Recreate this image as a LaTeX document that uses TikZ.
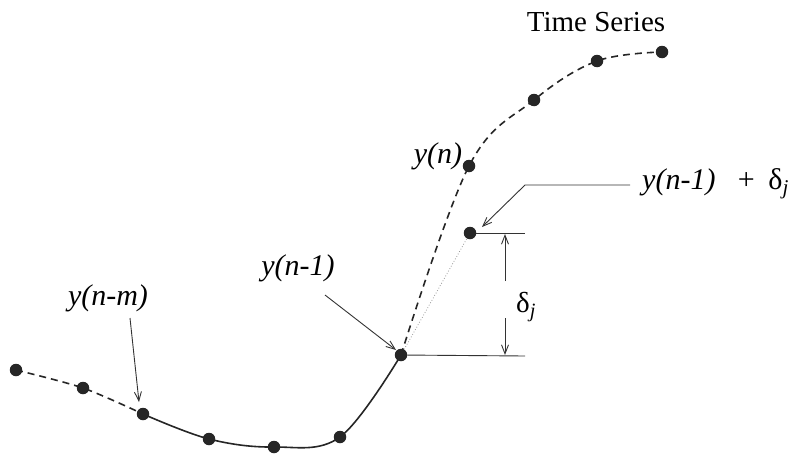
\documentclass[tikz,border=0pt]{standalone}
\usepackage{fontspec}
\setmainfont{Liberation Serif}
\usetikzlibrary{arrows.meta}
\begin{document}
\begin{tikzpicture}[x=1pt,y=-1pt,
  pt/.style={circle,fill=black!85,inner sep=0pt,minimum size=12.5pt},
  lab/.style={font=\fontsize{30}{34}\selectfont\itshape,inner sep=0pt},
  curve/.style={line width=1.6pt,black!85},
  dsh/.style={curve,dash pattern=on 7pt off 5pt},
  lead/.style={line width=0.9pt,black!80},
  arr/.style={lead,-{Straight Barb[length=9pt,width=7pt]}}]
\useasboundingbox (0,0) rectangle (794,455);
% points
\node[pt] (p1) at (16,370) {};
\node[pt] (p2) at (83,388) {};
\node[pt] (p3) at (143,414) {};
\node[pt] (p4) at (209,439) {};
\node[pt] (p5) at (274,447) {};
\node[pt] (p6) at (340,437) {};
\node[pt] (p7) at (401,355) {};
\node[pt] (p8) at (469,166) {};
\node[pt] (p9) at (534,100) {};
\node[pt] (p10) at (597,61) {};
\node[pt] (p11) at (662,52) {};
\node[pt] (pr) at (470,233) {};
% curves
\draw[dsh] plot[smooth,tension=0.5] coordinates {(p1) (p2) (p3)};
\draw[curve] plot[smooth,tension=0.6] coordinates {(p3) (p4) (p5) (p6) (p7)};
\draw[dsh] plot[smooth,tension=0.6] coordinates {(p7) (p8) (p9) (p10) (p11)};
\draw[black!40,line width=0.8pt,dotted] (p7) -- (pr);
% labels
\node[font=\fontsize{29}{33}\selectfont,inner sep=0pt] (ts) at (596,22) {Time Series};
\node[lab] (ln) at (438,156) {y(n)};
\node[lab] (ln1) at (298,268) {y(n-1)};
\node[lab] (lnm) at (108,298) {y(n-m)};
\node[lab,anchor=west] (lpr) at (642,184) {y(n-1)\hspace{0.75em}\upshape +\hspace{0.45em}δ\textsubscript{\itshape j}};
\node[font=\fontsize{29}{33}\selectfont,inner sep=0pt,anchor=west] (dl) at (516,307) {δ\textsubscript{\itshape j}};
% leaders
\coordinate (a1) at (130,318);
\coordinate (a1e) at (139,402);
\draw[arr] (a1) -- (a1e);
\coordinate (a2) at (325,295);
\coordinate (a2e) at (396,350);
\draw[arr] (a2) -- (a2e);
\coordinate (a3) at (630,185);
\coordinate (a3k) at (525,185);
\coordinate (a3e) at (482,227);
\draw[arr] (a3) -- (a3k) -- (a3e);
% dimension
\coordinate (h1) at (525,356);
\coordinate (h2) at (525,233);
\draw[lead] (p7) -- (h1);
\draw[lead] (pr) -- (h2);
\coordinate (d1) at (505,281);
\coordinate (d1e) at (505,234);
\coordinate (d2) at (505,318);
\coordinate (d2e) at (505,355);
\draw[arr] (d1) -- (d1e);
\draw[arr] (d2) -- (d2e);
\end{tikzpicture}
\end{document}
